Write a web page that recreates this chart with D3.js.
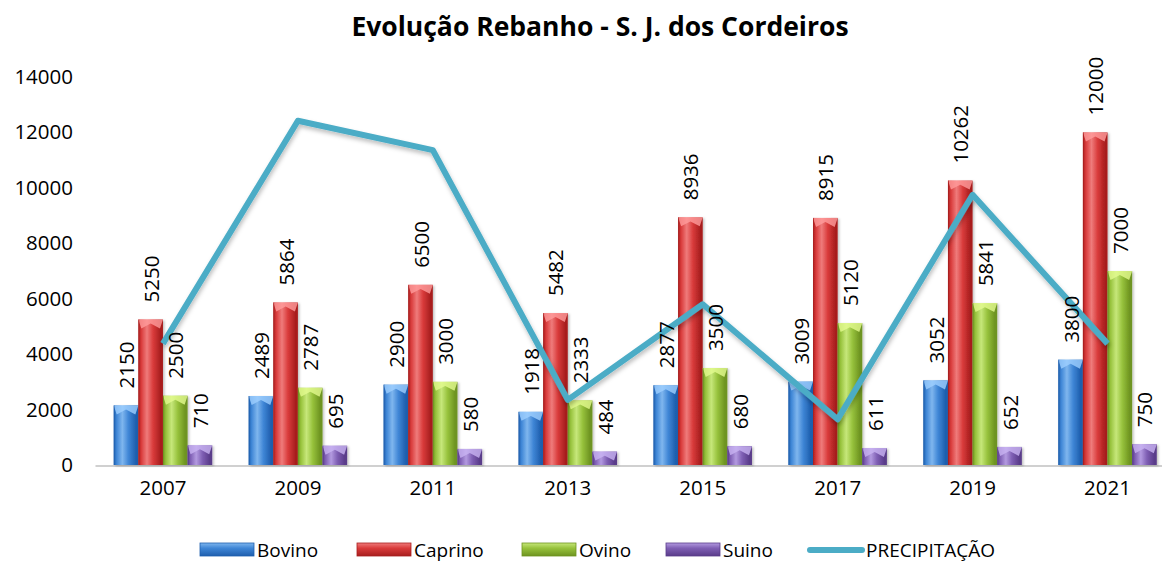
<!DOCTYPE html>
<html>
<head>
<meta charset="utf-8">
<script src="https://cdn.jsdelivr.net/npm/d3@7"></script>
<style>
  html, body { margin: 0; padding: 0; background: #fff; }
  svg { display: block; font-family: "Open Sans", "Liberation Sans", sans-serif; }
</style>
</head>
<body>
<svg id="chart" width="1173" height="563"></svg>
<script>
const categories = ["2007", "2009", "2011", "2013", "2015", "2017", "2019", "2021"];
const bovino  = [2150, 2489, 2900, 1918, 2877, 3009, 3052, 3800];
const caprino = [5250, 5864, 6500, 5482, 8936, 8915, 10262, 12000];
const ovino   = [2500, 2787, 3000, 2333, 3500, 5120, 5841, 7000];
const suino   = [710, 695, 580, 484, 680, 611, 652, 750];
const precipitacao = [4380, 12420, 11360, 2350, 5800, 1650, 9750, 4380];
const yTicks = [0, 2000, 4000, 6000, 8000, 10000, 12000, 14000];
const seriesNames = ["Bovino", "Caprino", "Ovino", "Suino"];
const lineName = "PRECIPITAÇÃO";
const title = "Evolução Rebanho - S. J. dos Cordeiros";

const seriesData = [bovino, caprino, ovino, suino];
const colors = [
  { dark: "#1f5fae", mid: "#3f86d6", light: "#7fb6ee", top: "#9fd0ff" },
  { dark: "#a81e1e", mid: "#d93b3b", light: "#ef7b7b", top: "#ff9c9c" },
  { dark: "#6e9420", mid: "#97c23c", light: "#c6e77a", top: "#e4fb90" },
  { dark: "#5a3c8a", mid: "#7f5fb4", light: "#b39ae0", top: "#c9b4f3" }
];
const lineColor = "#4bacc6";

const svg = d3.select("#chart");
const plot = { left: 95.5, right: 1175, top: 77, bottom: 465 };

const defs = svg.append("defs");
colors.forEach((c, i) => {
  const g = defs.append("linearGradient").attr("id", "grad" + i)
    .attr("x1", "0").attr("x2", "1").attr("y1", "0").attr("y2", "0");
  g.append("stop").attr("offset", "0").attr("stop-color", c.dark);
  g.append("stop").attr("offset", "0.12").attr("stop-color", c.mid);
  g.append("stop").attr("offset", "0.35").attr("stop-color", c.light);
  g.append("stop").attr("offset", "0.6").attr("stop-color", c.mid);
  g.append("stop").attr("offset", "0.9").attr("stop-color", c.dark);
  g.append("stop").attr("offset", "1").attr("stop-color", c.dark);
});
const shadow = defs.append("filter").attr("id", "lshadow")
  .attr("x", "-10%").attr("y", "-10%").attr("width", "120%").attr("height", "130%");
shadow.append("feDropShadow").attr("dx", 1).attr("dy", 3).attr("stdDeviation", 2)
  .attr("flood-color", "#000").attr("flood-opacity", 0.25);
const bshadow = defs.append("filter").attr("id", "bshadow")
  .attr("x", "-20%").attr("y", "-5%").attr("width", "150%").attr("height", "115%");
bshadow.append("feDropShadow").attr("dx", 1.5).attr("dy", 1).attr("stdDeviation", 1.2)
  .attr("flood-color", "#000").attr("flood-opacity", 0.25);

const x0 = d3.scaleBand().domain(categories).range([plot.left, plot.right]).paddingInner(0.27).paddingOuter(0.135);
const x1 = d3.scaleBand().domain(d3.range(seriesData.length)).range([0, x0.bandwidth()]).padding(0);
const y = d3.scaleLinear().domain([0, 14000]).range([plot.bottom, plot.top]);

// title
svg.append("text").attr("x", 600).attr("y", 36).attr("text-anchor", "middle")
  .attr("font-size", 26.5).attr("font-weight", "bold").attr("fill", "#000").text(title);

// y axis labels
const yAxis = d3.axisLeft(y).tickValues(yTicks).tickSize(0).tickPadding(0).tickFormat(d3.format("d"));
const yg = svg.append("g").attr("transform", "translate(73,0)").call(yAxis);
yg.select(".domain").remove();
yg.selectAll("text").attr("font-size", 20.5).attr("fill", "#000").attr("font-family", "'Open Sans', sans-serif");

// x axis line (floor)
svg.append("line").attr("x1", plot.left).attr("x2", 1162).attr("y1", plot.bottom + 1).attr("y2", plot.bottom + 1)
  .attr("stroke", "#d0d0d0").attr("stroke-width", 2);

// x axis labels
const xAxis = d3.axisBottom(x0).tickSize(0).tickPadding(0);
const xg = svg.append("g").attr("transform", "translate(0," + (plot.bottom + 23) + ")").call(xAxis);
xg.select(".domain").remove();
xg.selectAll("text").attr("font-size", 20.5).attr("fill", "#000").attr("font-family", "'Open Sans', sans-serif")
  .attr("y", 0).attr("dy", "0.35em");

// bars
seriesData.forEach((arr, si) => {
  const g = svg.append("g");
  arr.forEach((v, ci) => {
    const bx = x0(categories[ci]) + x1(si);
    const bw = x1.bandwidth();
    const by = y(v);
    const bh = y(0) - y(v);
    g.append("rect").attr("x", bx).attr("y", by).attr("width", bw).attr("height", bh)
      .attr("fill", "url(#grad" + si + ")").attr("filter", "url(#bshadow)");
    const bev = Math.min(9, bh);
    g.append("path")
      .attr("d", `M${bx},${by} L${bx + bw},${by} L${bx + bw - 3},${by + bev} L${bx + bw / 2},${by + bev * 0.45} L${bx + 3},${by + bev} Z`)
      .attr("fill", colors[si].top).attr("opacity", 0.8);
    g.append("line").attr("x1", bx + 0.5).attr("x2", bx + 0.5).attr("y1", by).attr("y2", y(0))
      .attr("stroke", colors[si].dark).attr("stroke-width", 1).attr("opacity", 0.6);
  });
});

// line
const line = d3.line().x((d, i) => x0(categories[i]) + x0.bandwidth() / 2).y(d => y(d));
svg.append("path").datum(precipitacao).attr("d", line).attr("fill", "none")
  .attr("stroke", lineColor).attr("stroke-width", 6).attr("stroke-linejoin", "round")
  .attr("filter", "url(#lshadow)");

// data labels
seriesData.forEach((arr, si) => {
  arr.forEach((v, ci) => {
    const cx = x0(categories[ci]) + x1(si) + x1.bandwidth() / 2;
    const ty = y(v) - 17;
    svg.append("text")
      .attr("transform", `translate(${cx},${ty}) rotate(-90)`)
      .attr("text-anchor", "start").attr("dominant-baseline", "central")
      .attr("font-size", 20.5).attr("fill", "#000").text(v);
  });
});

// legend
const legend = svg.append("g").attr("transform", "translate(0,550)");
const legItems = [
  { name: seriesNames[0], type: "bar", c: 0, x: 200 },
  { name: seriesNames[1], type: "bar", c: 1, x: 357 },
  { name: seriesNames[2], type: "bar", c: 2, x: 522 },
  { name: seriesNames[3], type: "bar", c: 3, x: 666 },
  { name: lineName, type: "line", x: 808 }
];
legItems.forEach(it => {
  const g = legend.append("g").attr("transform", `translate(${it.x},0)`);
  if (it.type === "bar") {
    const lg = defs.append("linearGradient").attr("id", "lgrad" + it.c)
      .attr("x1", 0).attr("x2", 0).attr("y1", 0).attr("y2", 1);
    lg.append("stop").attr("offset", 0).attr("stop-color", colors[it.c].light);
    lg.append("stop").attr("offset", 0.4).attr("stop-color", colors[it.c].mid);
    lg.append("stop").attr("offset", 1).attr("stop-color", colors[it.c].dark);
    g.append("rect").attr("x", 0).attr("y", -7).attr("width", 54).attr("height", 13)
      .attr("fill", "url(#lgrad" + it.c + ")").attr("stroke", colors[it.c].dark).attr("stroke-width", 0.8);
    g.append("text").attr("x", 57).attr("y", 0).attr("dominant-baseline", "central")
      .attr("font-size", 19).attr("fill", "#000").text(it.name);
  } else {
    g.append("line").attr("x1", 2).attr("x2", 54).attr("y1", 0).attr("y2", 0)
      .attr("stroke", lineColor).attr("stroke-width", 6).attr("stroke-linecap", "round");
    g.append("text").attr("x", 58).attr("y", 0).attr("dominant-baseline", "central")
      .attr("font-size", 19).attr("fill", "#000").text(it.name);
  }
});
</script>
</body>
</html>
